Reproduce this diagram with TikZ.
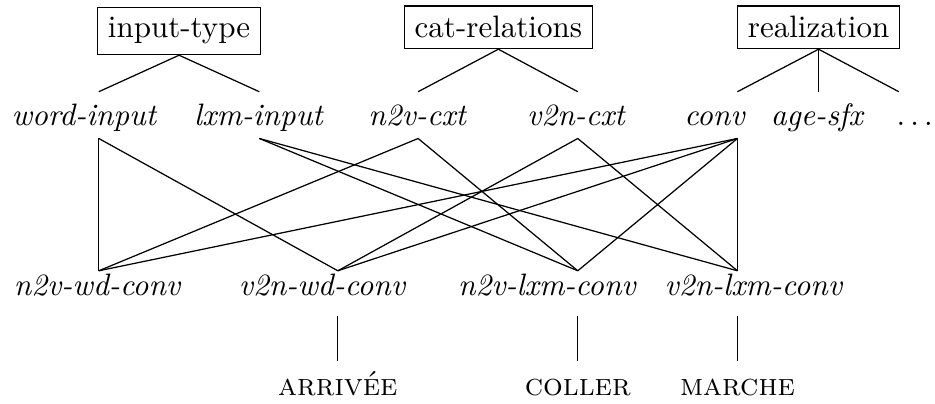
\documentclass[tikz,border=0pt]{standalone}
\usepackage{tikz}

\tikzset{
  hdbox/.style={draw, anchor=base},
  typ/.style={font=\itshape, anchor=base},
  lex/.style={font=\scshape, anchor=base, text height=7.6pt, text depth=0pt}
}

\begin{document}
\begin{tikzpicture}
\useasboundingbox (0,0) rectangle (10.60,4.57);
% dimensions
\node[hdbox] (intype) at (2.03,4.14) {input-type};
\node[hdbox] (catrel) at (5.65,4.14) {cat-relations};
\node[hdbox] (realiz) at (9.28,4.14) {realization};

% types on each dimension
\node[typ] (wdin) at (0.95,3.15) {word-input};
\node[typ] (lxin) at (2.93,3.15) {lxm-input};
\node[typ] (nvcx) at (4.73,3.15) {n2v-cxt};
\node[typ] (vncx) at (6.53,3.15) {v2n-cxt};
\node[typ] (conv) at (8.10,3.15) {conv};
\node[typ] (agsf) at (9.26,3.15) {age-sfx};
\node[typ] (more) at (10.37,3.15) {$\ldots$};
\foreach \n/\x in {wdin/1.12, lxin/2.94, nvcx/4.74, vncx/6.55, conv/8.36} {
  \coordinate (\n-t) at (\x,3.53);
  \coordinate (\n-b) at (\x,3.00);
}
\coordinate (agsf-t) at (9.28,3.53);
\coordinate (more-t) at (10.19,3.53);

% glb types
\node[typ] (nvwd) at (1.10,1.22) {n2v-wd-conv};
\node[typ] (vnwd) at (3.65,1.22) {v2n-wd-conv};
\node[typ] (nvlx) at (6.20,1.22) {n2v-lxm-conv};
\node[typ] (vnlx) at (8.54,1.22) {v2n-lxm-conv};
\foreach \n/\x in {nvwd/1.12, vnwd/3.83, nvlx/6.55, vnlx/8.36} {
  \coordinate (\n-t) at (\x,1.50);
  \coordinate (\n-b) at (\x,0.99);
}

% lexemes
\node[lex] (arr) at (3.83,0.09) {arriv\'ee};
\node[lex] (col) at (6.55,0.09) {coller};
\node[lex] (mar) at (8.36,0.09) {marche};

\draw (intype.south) -- (wdin-t);
\draw (intype.south) -- (lxin-t);
\draw (catrel.south) -- (nvcx-t);
\draw (catrel.south) -- (vncx-t);
\draw (realiz.south) -- (conv-t);
\draw (realiz.south) -- (agsf-t);
\draw (realiz.south) -- (more-t);

\draw (wdin-b) -- (nvwd-t);
\draw (wdin-b) -- (vnwd-t);
\draw (lxin-b) -- (nvlx-t);
\draw (lxin-b) -- (vnlx-t);
\draw (nvcx-b) -- (nvwd-t);
\draw (nvcx-b) -- (nvlx-t);
\draw (vncx-b) -- (vnwd-t);
\draw (vncx-b) -- (vnlx-t);
\foreach \g in {nvwd, vnwd, nvlx, vnlx}
  \draw (conv-b) -- (\g-t);

\draw (vnwd-b) -- (arr);
\draw (nvlx-b) -- (col);
\draw (vnlx-b) -- (mar);
\end{tikzpicture}
\end{document}
